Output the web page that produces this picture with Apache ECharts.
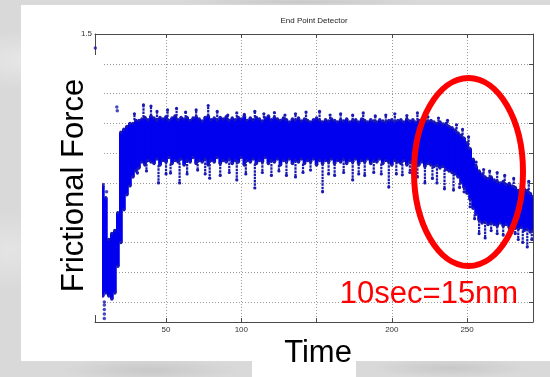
<!DOCTYPE html>
<html>
<head>
<meta charset="utf-8">
<script src="https://cdn.jsdelivr.net/npm/echarts@6/dist/echarts.min.js"></script>
<style>
  html, body { margin: 0; padding: 0; }
  #chart {
    width: 550px; height: 377px;
    background:
      radial-gradient(ellipse 60px 30px at 20px 60px, rgba(255,255,255,0.35), rgba(255,255,255,0) 100%),
      radial-gradient(ellipse 50px 40px at 10px 250px, rgba(255,255,255,0.3), rgba(255,255,255,0) 100%),
      radial-gradient(ellipse 90px 12px at 150px 370px, rgba(150,150,150,0.25), rgba(150,150,150,0) 100%),
      radial-gradient(ellipse 80px 10px at 450px 368px, rgba(150,150,150,0.25), rgba(150,150,150,0) 100%),
      radial-gradient(ellipse 120px 4px at 300px 2px, rgba(160,160,160,0.3), rgba(160,160,160,0) 100%),
      #d9d9d9;
  }
</style>
</head>
<body>
<div id="chart"></div>
<script>
// sampled every 2 time units, starting at t = 8
const t0 = 8
const step = 2

// lower edge of the dense band
const bandLow = [
  0.62, 0.63, 0.62, 0.61, 0.63, 0.72, 0.80, 0.91, 0.96, 0.99,
  1.02, 1.04, 1.05, 1.07, 1.06, 1.075, 1.07, 1.065, 1.08, 1.06,
  1.075, 1.07, 1.085, 1.065, 1.075, 1.07, 1.08, 1.06, 1.075, 1.07,
  1.085, 1.065, 1.075, 1.07, 1.08, 1.06, 1.075, 1.07, 1.085, 1.065,
  1.075, 1.07, 1.08, 1.065, 1.075, 1.07, 1.085, 1.06, 1.075, 1.07,
  1.08, 1.065, 1.075, 1.07, 1.085, 1.065, 1.075, 1.07, 1.08, 1.06,
  1.075, 1.07, 1.08, 1.065, 1.075, 1.07, 1.08, 1.065, 1.075, 1.07,
  1.08, 1.06, 1.075, 1.065, 1.075, 1.07, 1.08, 1.065, 1.075, 1.07,
  1.08, 1.065, 1.075, 1.07, 1.08, 1.065, 1.075, 1.07, 1.08, 1.065,
  1.075, 1.07, 1.08, 1.065, 1.075, 1.07, 1.06, 1.075, 1.07, 1.065,
  1.075, 1.06, 1.07, 1.065, 1.075, 1.06, 1.07, 1.055, 1.065, 1.06,
  1.055, 1.06, 1.05, 1.055, 1.045, 1.04, 1.035, 1.03, 1.02, 1.0,
  0.985, 0.965, 0.945, 0.915, 0.895, 0.875, 0.865, 0.87, 0.86, 0.865,
  0.86, 0.855, 0.865, 0.855, 0.86, 0.85, 0.855, 0.85, 0.845, 0.85,
  0.84, 0.845, 0.835, 0.84
]

// upper edge of the dense band
const bandHigh = [
  0.99, 0.95, 0.81, 0.83, 0.84, 0.90, 1.17, 1.18, 1.19, 1.20,
  1.20, 1.21, 1.21, 1.215, 1.22, 1.212, 1.225, 1.218, 1.21, 1.22,
  1.215, 1.222, 1.21, 1.218, 1.225, 1.212, 1.22, 1.215, 1.22, 1.21,
  1.218, 1.222, 1.215, 1.208, 1.22, 1.225, 1.212, 1.218, 1.21, 1.22,
  1.215, 1.222, 1.21, 1.218, 1.212, 1.22, 1.215, 1.225, 1.21, 1.218,
  1.212, 1.22, 1.215, 1.208, 1.218, 1.225, 1.212, 1.22, 1.215, 1.21,
  1.218, 1.212, 1.205, 1.215, 1.21, 1.218, 1.208, 1.215, 1.21, 1.205,
  1.212, 1.218, 1.21, 1.205, 1.212, 1.208, 1.215, 1.21, 1.205, 1.212,
  1.208, 1.215, 1.205, 1.21, 1.212, 1.205, 1.215, 1.21, 1.205, 1.212,
  1.208, 1.205, 1.212, 1.208, 1.205, 1.21, 1.212, 1.205, 1.21, 1.212,
  1.205, 1.215, 1.208, 1.212, 1.205, 1.21, 1.208, 1.212, 1.205, 1.21,
  1.205, 1.2, 1.205, 1.198, 1.2, 1.19, 1.185, 1.178, 1.168, 1.16,
  1.15, 1.135, 1.115, 1.08, 1.055, 1.04, 1.03, 1.02, 1.015, 1.02,
  1.01, 1.005, 1.0, 1.005, 0.995, 0.998, 0.99, 0.985, 0.975, 0.97,
  0.98, 0.975, 0.965, 0.955
]

// spikes above / below the band: [time, value]
const upSpikes = [
  [29, 1.232], [35, 1.262], [40, 1.258], [44, 1.24], [51, 1.245], [57, 1.25],
  [63, 1.238], [70, 1.245], [78, 1.26], [84, 1.24], [91, 1.228], [97, 1.235],
  [102, 1.23], [109, 1.24], [115, 1.232], [122, 1.236], [129, 1.228], [136, 1.232],
  [143, 1.238], [152, 1.24], [159, 1.228], [166, 1.232], [174, 1.228], [181, 1.235],
  [189, 1.225], [196, 1.228], [202, 1.232], [210, 1.226], [217, 1.235], [224, 1.222],
  [231, 1.218], [237, 1.21], [243, 1.195], [247, 1.18], [251, 1.155], [256, 1.07],
  [261, 1.045], [265, 1.04], [270, 1.035], [275, 1.025], [281, 1.015], [287, 1.0],
  [291, 1.005]
]
const downSpikes = [
  [31, 1.033], [37, 1.04], [45, 1.0], [50, 1.03], [53, 1.033], [59, 1.0],
  [64, 1.03], [71, 1.043], [76, 1.03], [79, 1.016], [86, 1.025], [92, 1.035],
  [97, 1.01], [103, 1.03], [109, 0.983], [114, 1.035], [120, 1.025], [125, 1.04],
  [130, 1.025], [136, 1.02], [141, 1.035], [146, 1.043], [154, 0.97], [158, 1.03],
  [162, 1.025], [168, 1.035], [174, 1.01], [178, 1.03], [182, 1.025], [188, 1.035],
  [193, 1.03], [198, 0.986], [203, 1.03], [207, 1.027], [212, 1.035], [217, 1.02],
  [222, 1.0], [227, 1.015], [230, 1.0], [235, 0.98], [241, 0.976], [245, 0.985],
  [248, 0.97], [252, 0.92], [255, 0.88], [258, 0.83], [262, 0.815], [266, 0.84],
  [270, 0.83], [274, 0.825], [278, 0.82], [282, 0.83], [284, 0.81], [287, 0.80],
  [290, 0.785], [293, 0.81]
]

// loose single points
const strayPoints = [
  [3, 1.453], [17.3, 1.255], [17.6, 1.242], [8.2, 0.995], [10.5, 0.97],
  [9, 0.545], [9, 0.56], [9, 0.575], [9, 0.59], [9, 0.6]
]

const xLabels = [50, 100, 200, 250]
const yLabels = [1.5]

const blue = '#0000ee'
const dotBlue = '#1a1ab0'
const axisColor = '#4a4a4a'
const gridLine = { show: true, lineStyle: { color: '#9a9a9a', type: [1, 2], width: 1 } }

const time = bandLow.map((_, i) => t0 + i * step)
const bandData = time.map((t, i) => [t, bandLow[i], bandHigh[i]])

function edgeAt(arr, t) {
  const i = Math.max(0, Math.min(arr.length - 1, Math.round((t - t0) / step)))
  return arr[i]
}
const spikeData = upSpikes.map(([t, v]) => [t, edgeAt(bandHigh, t), v])
  .concat(downSpikes.map(([t, v]) => [t, edgeAt(bandLow, t), v]))

const chart = echarts.init(document.getElementById('chart'), null, { renderer: 'canvas' })

const baseX = {
  type: 'value',
  min: 2.8,
  max: 293.8,
  splitNumber: 6,
  axisLine: { onZero: false, lineStyle: { color: axisColor, width: 1 } },
  axisTick: { inside: true, length: 4, lineStyle: { color: axisColor } },
}
const baseY = {
  type: 'value',
  min: 0.533,
  max: 1.5,
  splitNumber: 10,
  axisLine: { onZero: false, lineStyle: { color: axisColor, width: 1 } },
  axisTick: { inside: true, length: 4, lineStyle: { color: axisColor } },
}

const option = {
  backgroundColor: 'transparent',
  animation: false,
  title: {
    text: 'End Point Detector',
    left: 314,
    top: 17,
    textAlign: 'center',
    padding: 0,
    textStyle: { fontSize: 8, fontWeight: 'normal', color: '#222', fontFamily: 'Liberation Sans' },
  },
  grid: { left: 95, top: 34, right: 17, bottom: 55 },
  xAxis: [
    {
      ...baseX,
      position: 'bottom',
      splitLine: gridLine,
      axisLabel: {
        fontSize: 8,
        color: '#333',
        margin: 4,
        fontFamily: 'Liberation Sans',
        formatter: (v) => (xLabels.includes(v) ? String(v) : ''),
      },
    },
    {
      ...baseX,
      position: 'top',
      splitLine: { show: false },
      axisLabel: { show: false },
    },
  ],
  yAxis: [
    {
      ...baseY,
      position: 'left',
      splitLine: gridLine,
      axisLabel: {
        fontSize: 8,
        color: '#333',
        margin: 3,
        fontFamily: 'Liberation Sans',
        formatter: (v) => (yLabels.includes(v) ? String(v) : ''),
      },
    },
    {
      ...baseY,
      position: 'right',
      splitLine: { show: false },
      axisLabel: { show: false },
    },
  ],
  series: [
    {
      type: 'custom',
      name: 'band',
      clip: true,
      data: bandData,
      encode: { x: 0, y: [1, 2] },
      renderItem: (params, api) => {
        const top = api.coord([api.value(0), api.value(2)])
        const bot = api.coord([api.value(0), api.value(1)])
        const w = api.size([step, 0])[0] + 0.8
        return {
          type: 'group',
          children: [
            {
              type: 'rect',
              shape: { x: top[0] - w / 2, y: top[1], width: w, height: bot[1] - top[1] },
              style: { fill: blue },
            },
            { type: 'circle', shape: { cx: top[0], cy: top[1], r: 1.7 }, style: { fill: dotBlue } },
            { type: 'circle', shape: { cx: bot[0], cy: bot[1], r: 1.7 }, style: { fill: dotBlue } },
          ],
        }
      },
    },
    {
      type: 'custom',
      name: 'spikes',
      clip: true,
      data: spikeData,
      encode: { x: 0, y: [1, 2] },
      renderItem: (params, api) => {
        const a = api.coord([api.value(0), api.value(1)])
        const b = api.coord([api.value(0), api.value(2)])
        return {
          type: 'group',
          children: [
            {
              type: 'line',
              shape: { x1: a[0], y1: a[1], x2: b[0], y2: b[1] },
              style: { stroke: dotBlue, lineWidth: 2.2, lineDash: [2.5, 0.8] },
            },
            { type: 'circle', shape: { cx: b[0], cy: b[1], r: 1.6 }, style: { fill: dotBlue } },
          ],
        }
      },
    },
    {
      type: 'scatter',
      name: 'stray',
      symbolSize: 3.5,
      itemStyle: { color: dotBlue },
      data: strayPoints,
    },
  ],
  graphic: [
    { type: 'rect', z: -10, shape: { x: 21, y: 5, width: 529, height: 356 }, style: { fill: '#fff' } },
    { type: 'rect', z: -10, shape: { x: 252, y: 361, width: 104, height: 16 }, style: { fill: '#fff' } },
    // label box that hides the left axis
    { type: 'rect', z: 50, shape: { x: 40, y: 55, width: 62, height: 260 }, style: { fill: '#fff' } },
    {
      type: 'text',
      z: 51,
      x: 74,
      y: 185.5,
      rotation: Math.PI / 2,
      style: {
        text: 'Frictional Force',
        fontSize: 31,
        fontFamily: 'Liberation Sans',
        fill: '#000',
        textAlign: 'center',
        textVerticalAlign: 'middle',
      },
    },
    {
      type: 'text',
      z: 51,
      x: 318,
      y: 353,
      style: {
        text: 'Time',
        fontSize: 31,
        fontFamily: 'Liberation Sans',
        fill: '#000',
        textAlign: 'center',
        textVerticalAlign: 'middle',
      },
    },
    {
      type: 'ellipse',
      z: 60,
      shape: { cx: 468.5, cy: 172, rx: 54.5, ry: 94 },
      style: { fill: null, stroke: '#ff0000', lineWidth: 6 },
    },
    {
      type: 'text',
      z: 61,
      x: 429,
      y: 294,
      style: {
        text: '10sec=15nm',
        fontSize: 31,
        fontFamily: 'Liberation Sans',
        fill: '#ff0000',
        textAlign: 'center',
        textVerticalAlign: 'middle',
      },
    },
  ],
}

chart.setOption(option)
</script>
</body>
</html>
